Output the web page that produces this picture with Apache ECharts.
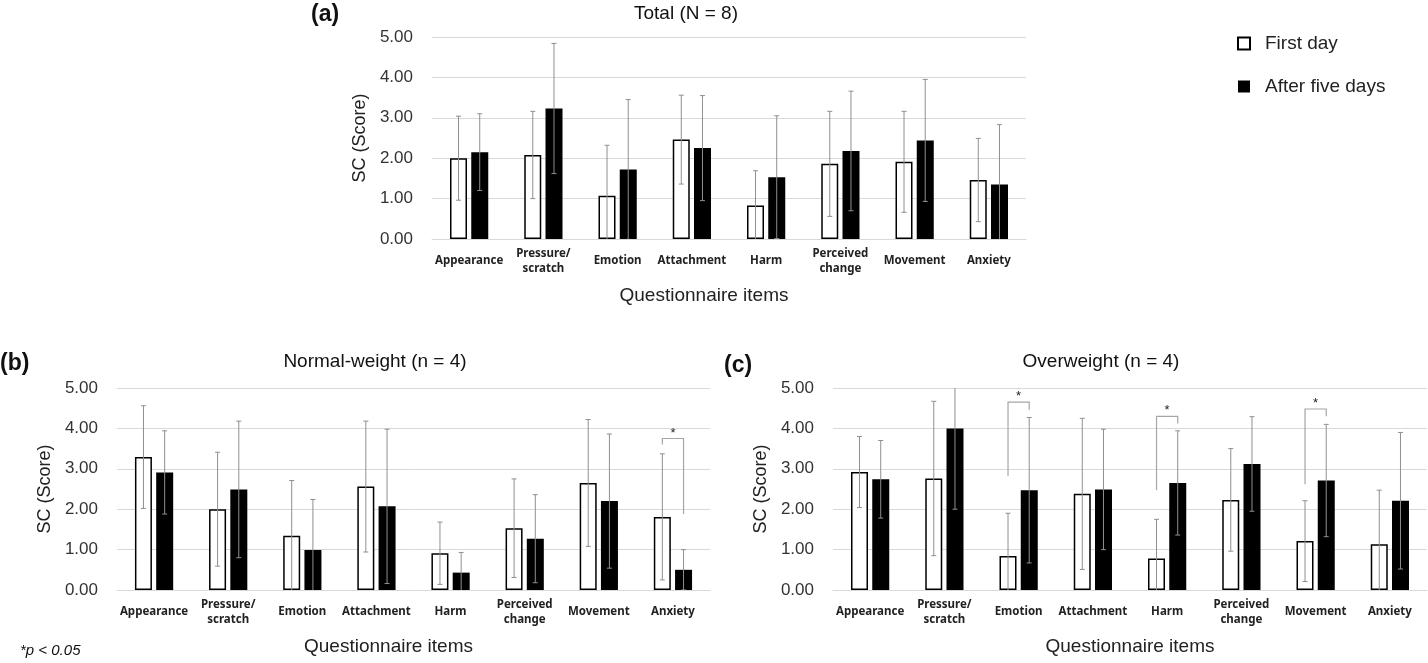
<!DOCTYPE html>
<html>
<head>
<meta charset="utf-8">
<script src="https://cdn.jsdelivr.net/npm/echarts@6/dist/echarts.min.js"></script>
<style>
html, body { margin: 0; padding: 0; background: #fff; }
#main { width: 1428px; height: 663px; }
</style>
</head>
<body>
<div id="main"></div>
<script>
// questionnaire items (x axis)
var items = ['Appearance', 'Pressure/\nscratch', 'Emotion', 'Attachment', 'Harm', 'Perceived\nchange', 'Movement', 'Anxiety'];
var yTicks = [0, 1, 2, 3, 4, 5];

// (a) Total
var firstA = [2.00, 2.08, 1.07, 2.46, 0.83, 1.86, 1.91, 1.46];
var firstSdA = [1.04, 1.08, 1.25, 1.10, 0.86, 1.30, 1.25, 1.03];
var afterA = [2.15, 3.23, 1.72, 2.25, 1.53, 2.18, 2.44, 1.35];
var afterSdA = [0.95, 1.61, 1.73, 1.30, 1.52, 1.48, 1.51, 1.48];

// (b) Normal-weight
var firstB = [3.29, 2.00, 1.34, 2.56, 0.91, 1.53, 2.65, 1.81];
var firstSdB = [1.27, 1.41, 1.37, 1.62, 0.77, 1.22, 1.57, 1.56];
var afterB = [2.91, 2.49, 0.99, 2.07, 0.43, 1.27, 2.20, 0.50];
var afterSdB = [1.03, 1.69, 1.25, 1.91, 0.50, 1.09, 1.66, 0.50];

// (c) Overweight
var firstC = [2.92, 2.76, 0.84, 2.38, 0.78, 2.23, 1.21, 1.13];
var firstSdC = [0.88, 1.91, 1.06, 1.87, 0.97, 1.27, 1.00, 1.34];
var afterC = [2.74, 4.00, 2.47, 2.49, 2.65, 3.12, 2.71, 2.21];
var afterSdC = [0.96, 2.00, 1.80, 1.49, 1.29, 1.17, 1.39, 1.69];

// significance brackets: [item, left leg bottom, top, right leg bottom]
var sigB = [[7, 3.60, 3.75, 1.88]];
var sigC = [[2, 2.82, 4.65, 4.46], [4, 2.47, 4.30, 4.12], [6, 2.62, 4.48, 4.30]];

var BAR_W = 17;
var OFF = 10.6; // px from category centre to each bar centre
var FONT = '"Liberation Sans", Arial, sans-serif';

function errData(mean, sd, side) {
    return mean.map(function (m, i) { return [i, m, sd[i], side]; });
}

function renderErr(params, api) {
    var c = api.value(0), m = api.value(1), s = api.value(2), side = api.value(3);
    var hi = api.coord([c, m + s]);
    var lo = api.coord([c, m - s]);
    var x = hi[0] + side * OFF;
    var st = { stroke: '#8f8f8f', lineWidth: 1 };
    return {
        type: 'group',
        children: [
            { type: 'line', shape: { x1: x, y1: hi[1], x2: x, y2: lo[1] }, style: st },
            { type: 'line', shape: { x1: x - 2.5, y1: hi[1], x2: x + 2.5, y2: hi[1] }, style: st },
            { type: 'line', shape: { x1: x - 2.5, y1: lo[1], x2: x + 2.5, y2: lo[1] }, style: st }
        ]
    };
}

function renderSig(params, api) {
    var c = api.value(0);
    var a = api.coord([c, api.value(1)]);
    var t = api.coord([c, api.value(2)]);
    var b = api.coord([c, api.value(3)]);
    var xl = a[0] - OFF, xr = a[0] + OFF;
    return {
        type: 'group',
        children: [
            { type: 'polyline', shape: { points: [[xl, a[1]], [xl, t[1]], [xr, t[1]], [xr, b[1]]] },
              style: { stroke: '#a6a6a6', lineWidth: 1.2, fill: null } },
            { type: 'text', x: a[0], y: t[1] - 12,
              style: { text: '*', font: '13px ' + FONT, fill: '#222', align: 'center', verticalAlign: 'top' } }
        ]
    };
}

var grids = [
    { left: 432, top: 37, width: 594, height: 202 },
    { left: 117, top: 388, width: 593, height: 202 },
    { left: 833, top: 388, width: 594, height: 202 }
];

function xAxisFor(idx, pad) {
    return {
        type: 'category', gridIndex: idx, data: items,
        axisTick: { show: false },
        axisLine: { lineStyle: { color: '#d9d9d9' } },
        axisLabel: { interval: 0, margin: 22, verticalAlign: 'middle', lineHeight: 15,
                     fontSize: 11.5, fontWeight: 'bold', color: '#222', fontFamily: '"Noto Sans", sans-serif' },
        name: 'Questionnaire items', nameLocation: 'middle', nameGap: 47,
        nameTextStyle: { fontSize: 19, color: '#222', fontFamily: FONT, padding: pad }
    };
}

function yAxisFor(idx) {
    return {
        type: 'value', gridIndex: idx, min: yTicks[0], max: yTicks[yTicks.length - 1], interval: 1,
        axisLine: { show: false }, axisTick: { show: false },
        splitLine: { lineStyle: { color: '#d9d9d9' } },
        axisLabel: { margin: 19, fontSize: 17, color: '#333', fontFamily: FONT,
                     formatter: function (v) { return v.toFixed(2); } },
        name: 'SC (Score)', nameLocation: 'middle', nameRotate: 90, nameGap: 63,
        nameTextStyle: { fontSize: 18, color: '#222', fontFamily: FONT }
    };
}

function panelSeries(idx, first, firstSd, after, afterSd, sig) {
    var s = [
        { name: 'First day', type: 'bar', xAxisIndex: idx, yAxisIndex: idx, data: first,
          barWidth: BAR_W, barGap: '25%',
          itemStyle: { color: '#fff', borderColor: '#000', borderWidth: 1.5 } },
        { name: 'After five days', type: 'bar', xAxisIndex: idx, yAxisIndex: idx, data: after,
          barWidth: BAR_W, barGap: '25%',
          itemStyle: { color: '#000' } },
        { type: 'custom', xAxisIndex: idx, yAxisIndex: idx, renderItem: renderErr, clip: true,
          data: errData(first, firstSd, -1), z: 5, silent: true },
        { type: 'custom', xAxisIndex: idx, yAxisIndex: idx, renderItem: renderErr, clip: true,
          data: errData(after, afterSd, 1), z: 5, silent: true }
    ];
    if (sig) {
        s.push({ type: 'custom', xAxisIndex: idx, yAxisIndex: idx, renderItem: renderSig,
                 data: sig, z: 6, silent: true });
    }
    return s;
}

function label(text, x, y, font, align) {
    return { type: 'text', x: x, y: y,
             style: { text: text, font: font, fill: '#111', align: align || 'left', verticalAlign: 'middle' } };
}

var option = {
    animation: false,
    backgroundColor: '#fff',
    grid: grids,
    xAxis: [xAxisFor(0, [0, 50, 0, 0]), xAxisFor(1, [0, 50, 0, 0]), xAxisFor(2, 0)],
    yAxis: [yAxisFor(0), yAxisFor(1), yAxisFor(2)],
    legend: {
        orient: 'vertical', left: 1232, top: 29,
        data: ['First day', 'After five days'],
        icon: 'rect', itemWidth: 12, itemHeight: 12, itemGap: 24,
        textStyle: { fontSize: 19, color: '#222', fontFamily: FONT, padding: [0, 0, 0, 10] }
    },
    graphic: [
        label('(a)', 311, 15, 'bold 23px ' + FONT),
        label('Total (N = 8)', 686, 14, '19px ' + FONT, 'center'),
        label('(b)', 0, 364, 'bold 23px ' + FONT),
        label('Normal-weight (n = 4)', 375, 362, '19px ' + FONT, 'center'),
        label('(c)', 724, 366, 'bold 23px ' + FONT),
        label('Overweight (n = 4)', 1101, 362, '19px ' + FONT, 'center'),
        label('*p < 0.05', 20, 651, 'italic 15px ' + FONT)
    ],
    series: [].concat(
        panelSeries(0, firstA, firstSdA, afterA, afterSdA, null),
        panelSeries(1, firstB, firstSdB, afterB, afterSdB, sigB),
        panelSeries(2, firstC, firstSdC, afterC, afterSdC, sigC)
    )
};

var myChart = echarts.init(document.getElementById('main'));
myChart.setOption(option);
</script>
</body>
</html>
